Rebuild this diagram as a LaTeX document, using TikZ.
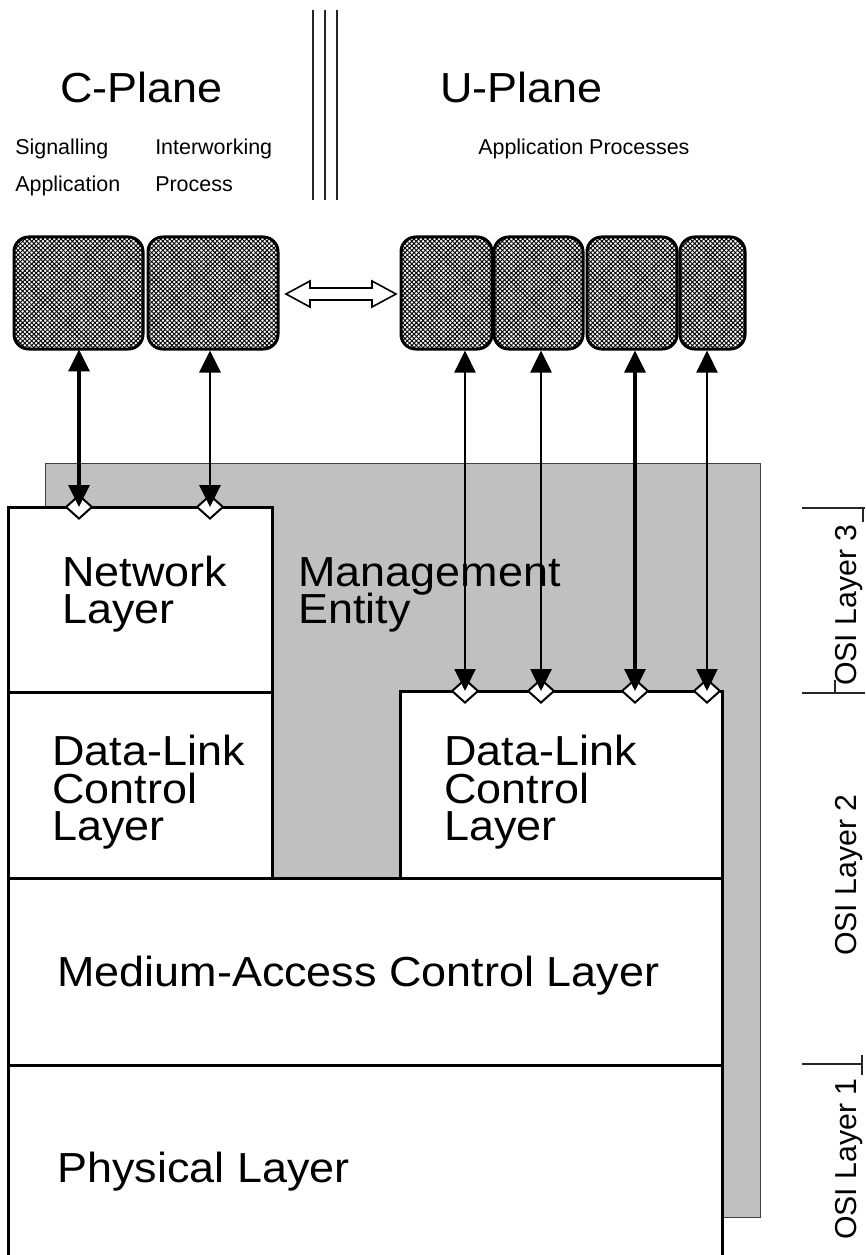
\documentclass[tikz,border=0pt]{standalone}
\usepackage{fontspec}
\setmainfont{Liberation Sans}
\newfontfamily\bigf[FakeStretch=1.07]{Liberation Sans}
\usetikzlibrary{arrows.meta,shapes.geometric,patterns.meta,fit,calc}
\definecolor{mgray}{HTML}{C0C0C0}
\begin{document}
\begin{tikzpicture}[x=0.75pt,y=-0.75pt,
 layerbox/.style={draw=black,line width=2.25pt,fill=white,inner sep=0pt},
 hbox/.style={draw=black,line width=2.25pt,rounded corners=11pt,inner sep=0pt,
   pattern={Hatch[angle=45,distance=2.4pt,line width=0.7pt]}},
 mgmt/.style={draw=black!75,line width=0.75pt,fill=mgray,inner sep=0pt},
 bigtxt/.style={font=\bigf\fontsize{31.5}{37}\selectfont,anchor=base west,inner sep=0pt,
   text height=0.72em,text depth=0.1em},
 smalltxt/.style={font=\fontsize{16.1}{19}\selectfont,anchor=base west,inner sep=0pt},
 osi/.style={font=\fontsize{22.7}{27}\selectfont,rotate=90,anchor=base,inner sep=0pt},
 dia/.style={diamond,draw=black,fill=white,line width=1.5pt,minimum width=20pt,minimum height=18pt,inner sep=0pt},
 link/.style={line width=#1,{Triangle[width=15.75pt,length=16.5pt]}-{Triangle[width=15.75pt,length=16.5pt]}},
 sep/.style={line width=0.9pt,draw=black!85},
]
\useasboundingbox (0,0) rectangle (865,1255);

% management entity
\node[mgmt,fit={(45,463) (760,1217)}] (me) {};

% layer boxes
\node[layerbox,fit={(8,507) (272,692)}] (net) {};
\node[layerbox,fit={(8,692) (272,878)}] (dlcl) {};
\node[layerbox,fit={(400,691) (722,878)}] (dlcr) {};
\node[layerbox,fit={(8,878) (722,1065)}] (mac) {};
\node[layerbox,fit={(8,1065) (722,1265)}] (phy) {};

% hatched application boxes
\node[hbox,fit={(14,237) (143,349)}] (h1) {};
\node[hbox,fit={(148,237) (278,349)}] (h2) {};
\node[hbox,fit={(401,237) (492,349)}] (h3) {};
\node[hbox,fit={(494,237) (583,349)}] (h4) {};
\node[hbox,fit={(587,237) (677,349)}] (h5) {};
\node[hbox,fit={(680,237) (745,349)}] (h6) {};

% hollow double arrow between planes
\coordinate (dl) at (286,294);
\coordinate (dr) at (396,294);
\draw[line width=1.2pt,fill=white,line join=miter]
  (dl) -- ($(dl)+(24,-13)$) -- ($(dl)+(24,-6)$) -- ($(dr)+(-24,-6)$) -- ($(dr)+(-24,-13)$)
  -- (dr) -- ($(dr)+(-24,13)$) -- ($(dr)+(-24,6)$) -- ($(dl)+(24,6)$) -- ($(dl)+(24,13)$) -- cycle;

% diamonds at service access points
\node[dia] (d1) at (79,507) {};
\node[dia] (d2) at (210,507) {};
\node[dia] (d3) at (465,691) {};
\node[dia] (d4) at (541,691) {};
\node[dia] (d5) at (635,691) {};
\node[dia] (d6) at (707,691) {};

% vertical links
\draw[link=2.6pt] (d1 |- h1.south) -- (d1.center);
\draw[link=2.2pt] (d2 |- h2.south) -- (d2.center);
\draw[link=1.6pt] (d3 |- h3.south) -- (d3.center);
\draw[link=2.0pt] (d4 |- h4.south) -- (d4.center);
\draw[link=2.6pt] (d5 |- h5.south) -- (d5.center);
\draw[link=1.6pt] (d6 |- h6.south) -- (d6.center);

% plane separator
\draw[sep] (313,10) -- (313,200);
\draw[sep] (325,10) -- (325,200);
\draw[sep] (337,10) -- (337,200);

% top texts
\node[bigtxt] (cp) at (60,103) {C-Plane};
\node[bigtxt] (up) at (440,103) {U-Plane};
\node[smalltxt] (s1) at (15,155) {Signalling};
\node[smalltxt] (s2) at (15,192) {Application};
\node[smalltxt] (i1) at (155,155) {Interworking};
\node[smalltxt] (i2) at (155,192) {Process};
\node[smalltxt] (ap) at (478,155) {Application Processes};

% layer texts
\node[bigtxt] (t1) at (62,586) {Network};
\node[bigtxt] (t2) at (62,623) {Layer};
\node[bigtxt] (t3) at (298,586) {Management};
\node[bigtxt] (t4) at (298,623) {Entity};
\node[bigtxt] (t5) at (52,765) {Data-Link};
\node[bigtxt] (t6) at (52,803) {Control};
\node[bigtxt] (t7) at (52,840) {Layer};
\node[bigtxt] (t8) at (444,765) {Data-Link};
\node[bigtxt] (t9) at (444,803) {Control};
\node[bigtxt] (t10) at (444,840) {Layer};
\node[bigtxt] (t11) at (57,986) {Medium-Access Control Layer};
\node[bigtxt] (t12) at (57,1182) {Physical Layer};

% OSI labels
\node[osi] (o3) at (856,605) {OSI Layer 3};
\node[osi] (o2) at (856,875) {OSI Layer 2};
\node[osi] (o1) at (856,1159) {OSI Layer 1};
\draw[sep] (802,508) -- (865,508);
\draw[sep] (863,508) -- (863,522);
\draw[sep] (802,693) -- (865,693);
\draw[sep] (835,680) -- (835,693);
\draw[sep] (802,1064) -- (863,1064);
\draw[sep] (862,1055) -- (862,1075);
\end{tikzpicture}
\end{document}
